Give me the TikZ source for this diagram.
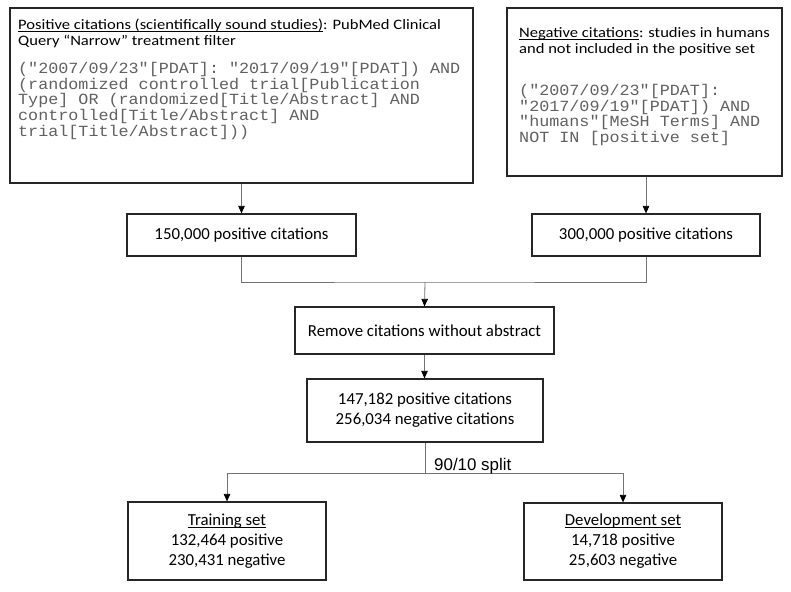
\documentclass[tikz,border=0pt]{standalone}
\usepackage{fontspec}
\setmainfont{Carlito}
\newfontfamily\topfont[FakeStretch=1.15]{Carlito}
\newfontfamily\topmono[FakeStretch=1.08]{Liberation Mono}
\newfontfamily\arialfont{Liberation Sans}
\newcommand\myul[1]{\setbox0\hbox{#1}\rlap{\rule[-2.4pt]{\wd0}{0.9pt}}\box0}
\usetikzlibrary{arrows.meta}
\begin{document}
\begin{tikzpicture}[x=1pt,y=-1pt]
\tikzset{
 boxst/.style={draw=black!85, line width=1.2pt, inner sep=0pt, rectangle},
 conn/.style={draw=black!55, line width=0.8pt},
 arr/.style={conn, -{Triangle[length=7.5pt,width=6.5pt,color=black]}},
 hdr/.style={anchor=base west, inner sep=0pt, font=\topfont\fontsize{14.4}{16}\selectfont},
 qry/.style={anchor=base west, inner sep=0pt, text=black!62, font=\topmono\fontsize{15.5}{16}\selectfont},
 lowtxt/.style={align=center, font=\fontsize{16.8}{20}\selectfont},
}
\useasboundingbox (0,0) rectangle (791,591);
\fill[white] (0,0) rectangle (791,591);
% top-left box
\node[boxst, minimum width=463pt, minimum height=175pt] (tl) at (241.5,95.5) {};
\node[hdr] (tlh1) at (18,29.3) {\myul{Positive citations (scientifically sound studies)}: PubMed Clinical};
\node[hdr] (tlh2) at (18,45.3) {Query “Narrow” treatment filter};
\node[qry] (tlq1) at (18,74) {("2007/09/23"[PDAT]: "2017/09/19"[PDAT]) AND};
\node[qry] (tlq2) at (18,89.5) {(randomized controlled trial[Publication};
\node[qry] (tlq3) at (18,105) {Type] OR (randomized[Title/Abstract] AND};
\node[qry] (tlq4) at (18,120.5) {controlled[Title/Abstract] AND};
\node[qry] (tlq5) at (18,136) {trial[Title/Abstract]))};
% top-right box
\node[boxst, minimum width=275pt, minimum height=168pt] (tr) at (644.5,92) {};
\node[hdr] (trh1) at (519,37.5) {\myul{Negative citations}: studies in humans};
\node[hdr] (trh2) at (519,53.5) {and not included in the positive set};
\node[qry] (trq1) at (519,95.8) {("2007/09/23"[PDAT]:};
\node[qry] (trq2) at (519,111.3) {"2017/09/19"[PDAT]) AND};
\node[qry] (trq3) at (519,126.8) {"humans"[MeSH Terms] AND};
\node[qry] (trq4) at (519,142.3) {NOT IN [positive set]};
% lower boxes
\node[boxst, lowtxt, minimum width=229pt, minimum height=42pt] (b150) at (241.5,235) {150,000 positive citations};
\node[boxst, lowtxt, minimum width=228pt, minimum height=42pt] (b300) at (646,235) {300,000 positive citations};
\node[boxst, lowtxt, minimum width=259pt, minimum height=47pt] (rem) at (424.5,330.5) {Remove citations without abstract};
\node[boxst, lowtxt, minimum width=236pt, minimum height=63pt] (b147) at (425,410.5) {147,182 positive citations\\256,034 negative citations};
\node[boxst, lowtxt, minimum width=198pt, minimum height=78pt] (train) at (227,541) {\myul{Training set}\\132,464 positive\\230,431 negative};
\node[boxst, lowtxt, minimum width=198pt, minimum height=77pt] (dev) at (623,541.5) {\myul{Development set}\\14,718 positive\\25,603 negative};
% connectors
\coordinate (m) at (425,282);
\coordinate (s) at (425,473);
\draw[arr] (tl.south) -- (b150.north);
\draw[arr] (b300.north |- tr.south) -- (b300.north);
\draw[conn] (b150.south) |- (m) -| (b300.south);
\draw[arr] (m) -- (rem.north);
\draw[arr] (rem.south) -- (rem.south |- b147.north);
\draw[conn] (b147.south) -- (s);
\draw[arr] (s) -| (train.north);
\draw[arr] (s) -| (dev.north);
\node[font=\arialfont\fontsize{16.9}{20}\selectfont, anchor=base west, inner sep=0pt] (split) at (434,470) {90/10 split};
\end{tikzpicture}
\end{document}
